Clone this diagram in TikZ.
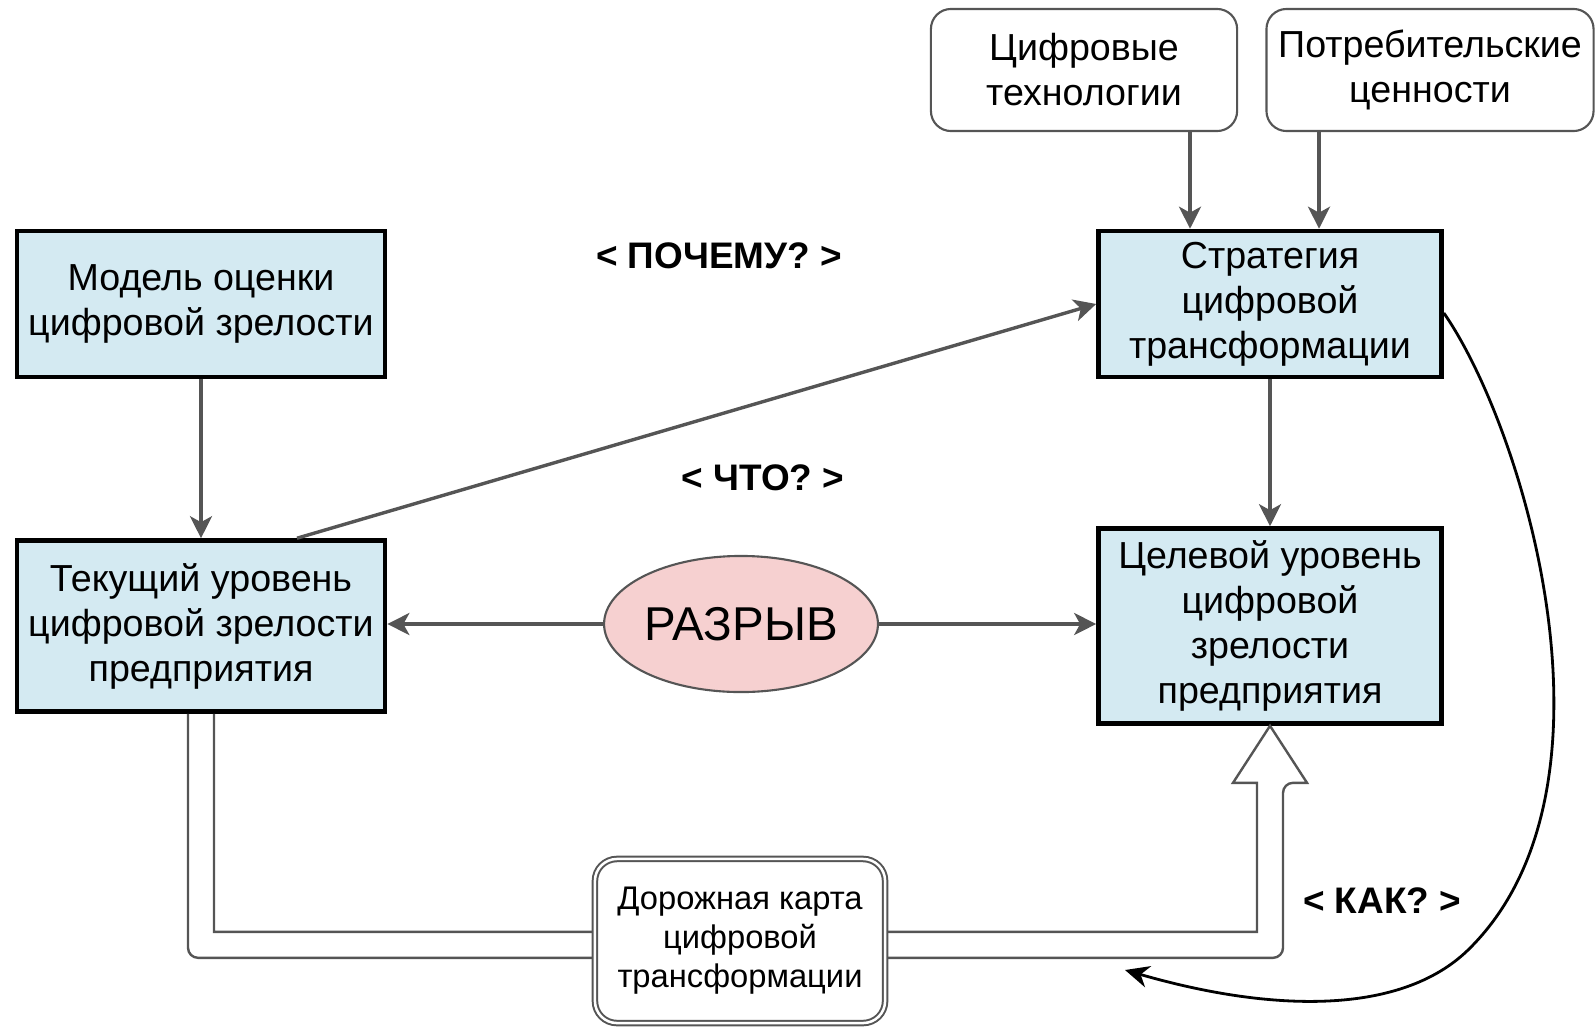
\documentclass[tikz,border=0pt]{standalone}
\usepackage{fontspec}
\setmainfont{Liberation Sans}
\usetikzlibrary{arrows.meta,positioning,calc,shapes.geometric}
\definecolor{Bcolor}{HTML}{D4EAF2}
\definecolor{Gcolor}{HTML}{F6D0D0}
\definecolor{Acolor}{HTML}{555555}

\begin{document}
\begin{tikzpicture}[
  x=0.01cm, y=-0.01cm,
  box/.style={draw=black, line width=0.045cm, fill=Bcolor, align=center, inner sep=2pt, font=\fontsize{10.7}{12.8}\selectfont},
  src/.style={draw=Acolor, line width=0.6pt, rounded corners=0.2cm, fill=white, align=center, minimum height=1.22cm, font=\fontsize{10.7}{12.8}\selectfont},
  arr/.style={-{Stealth[length=0.22cm, width=0.22cm, inset=0.06cm]}, draw=Acolor, line width=0.034cm},
  ask/.style={font=\fontsize{10.5}{12}\selectfont\bfseries},
]
  \useasboundingbox (0,0) rectangle (1595,1027);

  % Inputs
  \node[src, minimum width=3.06cm] (tech) at (1084,70) {Цифровые\\технологии};
  \node[src, minimum width=3.17cm] (cons) at (1430,70) {Потребительские\\ценности};

  % Main boxes
  \node[box, minimum width=3.68cm, minimum height=1.46cm] (model) at (201,304) {Модель оценки\\цифровой зрелости};
  \node[box, minimum width=3.68cm, minimum height=1.71cm] (now) at (201,626) {Текущий уровень\\цифровой зрелости\\предприятия};
  \node[box, minimum width=3.43cm, minimum height=1.46cm] (strat) at (1270,304) {Стратегия\\цифровой\\трансформации};
  \node[box, minimum width=3.43cm, minimum height=1.95cm] (goal) at (1270,626) {Целевой уровень\\цифровой\\зрелости\\предприятия};

  % Gap
  \node[ellipse, draw=Acolor, line width=0.6pt, fill=Gcolor, inner sep=0pt, minimum width=2.66cm, minimum height=1.36cm,
        font=\fontsize{13.5}{16}\selectfont] (gap) at (741,624) {РАЗРЫВ};

  % Questions
  \node[ask] (why) at (719,256) {< ПОЧЕМУ? >};
  \node[ask] (what) at (763,478) {< ЧТО? >};
  \node[ask] (how) at (1382,901) {< КАК? >};

  % Arrows
  \coordinate (s1) at ($(strat.north)+(-80,0)$);
  \coordinate (s2) at ($(strat.north)+(49,0)$);
  \draw[arr] (tech.south -| s1) -- (s1);
  \draw[arr] (cons.south -| s2) -- (s2);
  \draw[arr] (model) -- (now);
  \draw[arr] (strat) -- (goal);
  \draw[arr] ($(now.north)+(96,0)$) -- (strat.west);
  \draw[arr] (gap.west) -- (gap.west -| now.east);
  \draw[arr] (gap.east) -- (gap.east -| goal.west);

  % Hollow road arrow
  \draw[Acolor, line width=0.024cm, rounded corners=0.1cm]
    ($(now.south)+(-13,0)$) |- ($(goal.south)+(13,232)$) -- ($(goal.south)+(13,57)$)
    [sharp corners] -- ($(goal.south)+(37,57)$) -- (goal.south) -- ($(goal.south)+(-37,57)$)
    -- ($(goal.south)+(-13,57)$) -- ($(goal.south)+(-13,206)$) -| ($(now.south)+(13,0)$);

  % Roadmap
  \node[draw=Acolor, double, double distance=0.025cm, line width=0.02cm, rounded corners=0.22cm, fill=white,
        align=center, minimum width=2.9cm, minimum height=1.64cm, font=\fontsize{9.3}{11.1}\selectfont]
        (road) at (740,941) {Дорожная карта\\цифровой\\трансформации};

  % How loop
  \coordinate (howend) at (1125,970);
  \draw[-{Stealth[length=0.24cm, width=0.22cm]}, line width=0.028cm]
    ($(strat.east)+(0,9)$) .. controls (1525,430) and (1632,790) .. (1468,950)
    .. controls (1400,1016) and (1270,1012) .. (howend);
\end{tikzpicture}
\end{document}
